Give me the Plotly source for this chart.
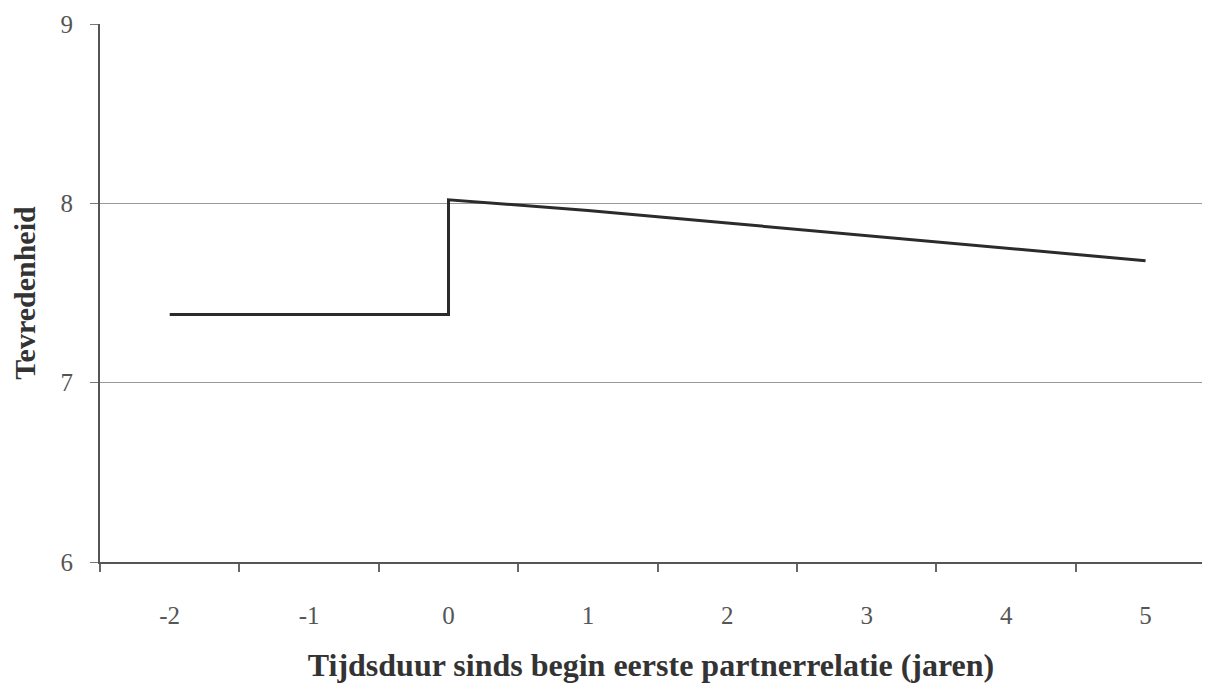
import plotly.graph_objects as go

# Data
years = [-2, -1, 0, 0, 1, 2, 3, 4, 5]
satisfaction = [7.38, 7.38, 7.38, 8.02, 7.96, 7.89, 7.82, 7.75, 7.68]
x_tick_vals = [-2, -1, 0, 1, 2, 3, 4, 5]
x_tick_text = ["-2", "-1", "0", "1", "2", "3", "4", "5"]
y_tick_vals = [6, 7, 8, 9]

font_family = "Liberation Serif, Times New Roman, serif"

fig = go.Figure()
fig.add_trace(go.Scatter(
    x=years, y=satisfaction, mode="lines",
    line=dict(color="#2b2b2b", width=3),
    showlegend=False, hoverinfo="skip",
))

fig.update_layout(
    width=1194, height=675,
    margin=dict(l=92, r=0, t=16, b=121),
    paper_bgcolor="white", plot_bgcolor="white",
    font=dict(family=font_family, color="#555555", size=25),
)

fig.update_xaxes(
    range=[-2.5, 5.405],
    tickmode="array", tickvals=x_tick_vals, ticktext=x_tick_text,
    ticks="", ticklabelstandoff=30,
    showgrid=False, zeroline=False,
    showline=True, linecolor="#555555", linewidth=2,
    minor=dict(tickmode="linear", tick0=-2.5, dtick=1, ticks="outside",
               ticklen=8, tickwidth=1.5, tickcolor="#666666", showgrid=False),
    title=dict(text="<b>Tijdsduur sinds begin eerste partnerrelatie (jaren)</b>",
               font=dict(family=font_family, size=32, color="#333333"),
               standoff=27),
)

fig.update_yaxes(
    range=[6, 9],
    tickmode="array", tickvals=y_tick_vals,
    ticks="outside", ticklen=8, tickcolor="#777777", tickwidth=1,
    ticklabelstandoff=12,
    showgrid=True, gridcolor="#999999", gridwidth=1.2,
    zeroline=False,
    showline=True, linecolor="#555555", linewidth=2,
    title=dict(text="<b>Tevredenheid</b>",
               font=dict(family=font_family, size=30, color="#333333"),
               standoff=20),
)

fig.write_html("out.html")
